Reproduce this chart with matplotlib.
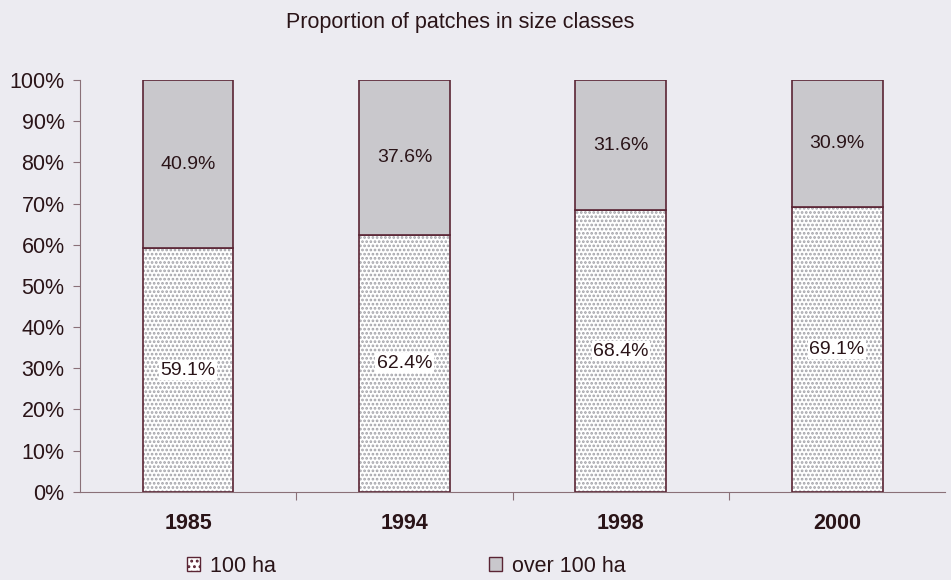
import matplotlib.pyplot as plt
import matplotlib.patches as mpatches
import numpy as np

years = ['1985', '1994', '1998', '2000']
small = [59.1, 62.4, 68.4, 69.1]   # patches up to 100 ha
large = [40.9, 37.6, 31.6, 30.9]   # patches over 100 ha
legend_labels = ['100 ha', 'over 100 ha']

bg = '#ecebf1'
edge = '#5a2434'
grey = '#c9c8cc'
txt = '#2a1418'

plt.rcParams['font.family'] = 'Liberation Sans'
plt.rcParams['hatch.linewidth'] = 1.3

fig = plt.figure(figsize=(9.51, 5.80), dpi=100, facecolor=bg)
ax = fig.add_axes([0.084, 0.152, 0.91, 0.710])
ax.set_facecolor(bg)

x = np.arange(len(years))
w = 0.42

# dotted lower part, then the outlines on top
ax.bar(x, small, w, color='white', hatch='....', edgecolor='#a2a2a8', linewidth=0)
ax.bar(x, small, w, color='none', edgecolor=edge, linewidth=1.2)
ax.bar(x, large, w, bottom=small, color=grey, edgecolor=edge, linewidth=1.2)

for i in range(len(years)):
    ax.text(x[i], small[i] / 2, f'{small[i]:.1f}%', ha='center', va='center',
            fontsize=14, color=txt,
            bbox=dict(facecolor='white', edgecolor='none', pad=1))
    ax.text(x[i], small[i] + large[i] / 2, f'{large[i]:.1f}%', ha='center',
            va='center', fontsize=14, color=txt)

ax.set_xlim(-0.5, 3.5)
ax.set_ylim(0, 100)
ax.set_yticks(np.arange(0, 101, 10))
ax.set_yticklabels([f'{v}%' for v in range(0, 101, 10)], fontsize=15.5, color=txt)
ax.set_xticks([0.5, 1.5, 2.5])
ax.set_xticklabels([])
ax.set_xticks(x, minor=True)
ax.set_xticklabels(years, minor=True, fontsize=15.5, fontweight='bold', color=txt)
ax.tick_params(axis='x', which='minor', length=0, pad=15)
ax.tick_params(axis='x', which='major', length=6, color='#8a7078', direction='out')
ax.tick_params(axis='y', length=5, color='#8a7078', direction='out', pad=6)

for s in ['top', 'right']:
    ax.spines[s].set_visible(False)
ax.spines['left'].set_color('#8a7078')
ax.spines['bottom'].set_color('#8a7078')

fig.text(0.484, 0.962, 'Proportion of patches in size classes', ha='center',
         va='center', fontsize=15.5, color=txt)

handles = [mpatches.Patch(facecolor='white', edgecolor=edge, hatch='...'),
           mpatches.Patch(facecolor=grey, edgecolor=edge)]
fig.legend(handles, legend_labels, loc='center left', bbox_to_anchor=(0.197, 0.024),
           ncol=2, frameon=False, fontsize=15.5, handlelength=0.6, handleheight=0.6,
           handletextpad=0.45, columnspacing=9.9, borderpad=0, borderaxespad=0,
           labelcolor=txt)

fig.savefig('out.png', dpi=100, facecolor=bg)
